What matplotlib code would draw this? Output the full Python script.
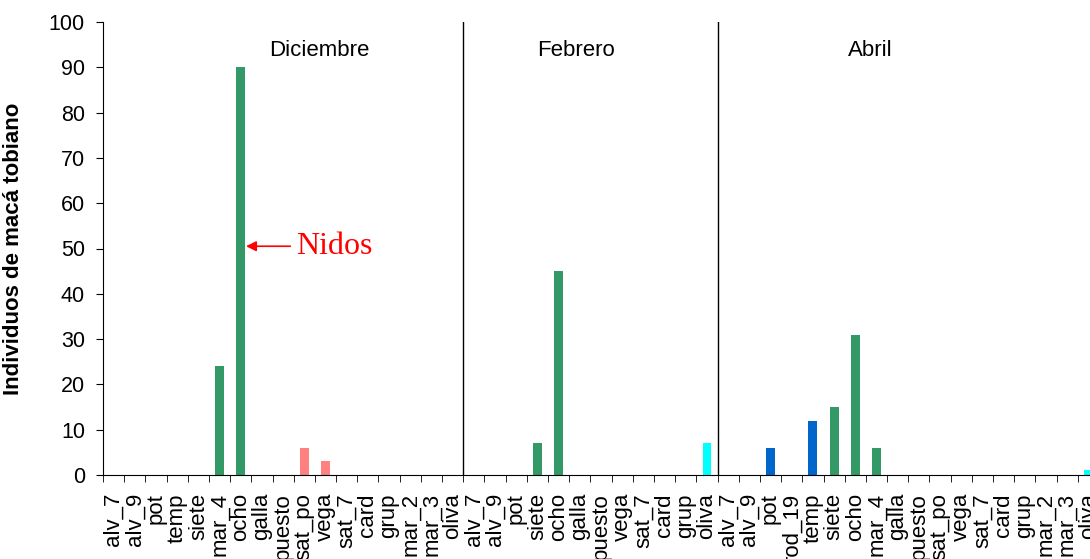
import numpy as np
import matplotlib.pyplot as plt

# Categorias por mes
dic = ["alv_7", "alv_9", "pot", "temp", "siete", "mar_4", "ocho", "galla", "puesto",
       "sat_po", "vega", "sat_7", "card", "grup", "mar_2", "mar_3", "oliva"]
feb = ["alv_7", "alv_9", "pot", "siete", "ocho", "galla", "puesto", "vega", "sat_7",
       "card", "grup", "oliva"]
abr = ["alv_7", "alv_9", "pot", "rod_19", "temp", "siete", "ocho", "mar_4", "galla",
       "puesto", "sat_po", "vega", "sat_7", "card", "grup", "mar_2", "mar_3", "oliva"]

# Individuos de maca tobiano
val_dic = [0, 0, 0, 0, 0, 24, 90, 0, 0, 6, 3, 0, 0, 0, 0, 0, 0]
val_feb = [0, 0, 0, 7, 45, 0, 0, 0, 0, 0, 0, 7]
val_abr = [0, 0, 6, 0, 12, 15, 31, 6, 0, 0, 0, 0, 0, 0, 0, 0, 0, 1]

meses = ["Diciembre", "Febrero", "Abril"]

verde = "#339966"
rosa = "#FF8080"
cian = "#00FFFF"
azul = "#0066CC"
col_dic = {"mar_4": verde, "ocho": verde, "sat_po": rosa, "vega": rosa, "oliva": cian}
col_feb = {"siete": verde, "ocho": verde, "oliva": cian}
col_abr = {"pot": azul, "temp": azul, "siete": verde, "ocho": verde, "mar_4": verde, "oliva": cian}

labels = dic + feb + abr
values = val_dic + val_feb + val_abr
colors = ([col_dic.get(c, verde) for c in dic] + [col_feb.get(c, verde) for c in feb]
          + [col_abr.get(c, verde) for c in abr])
x = np.arange(len(labels))

plt.rcParams["font.family"] = ["Liberation Sans", "DejaVu Sans"]

fig = plt.figure(figsize=(10.9, 5.59), dpi=100)
ax = fig.add_axes([103 / 1090, 84 / 559, 996 / 1090, 453 / 559])

ax.bar(x, values, width=0.42, color=colors)

ax.set_xlim(-0.5, len(labels) - 0.5)
ax.set_ylim(0, 100)
ax.set_yticks(np.arange(0, 101, 10))
ax.tick_params(axis="y", labelsize=15.5, direction="out", length=5, pad=8)

ax.set_xticks(x)
ax.set_xticklabels(labels, rotation=90, fontsize=16)
ax.tick_params(axis="x", which="major", length=0, pad=13)
ax.set_xticks(np.arange(-0.5, len(labels), 1), minor=True)
ax.tick_params(axis="x", which="minor", length=5, direction="out")

ax.spines["top"].set_visible(False)
ax.spines["right"].set_visible(False)

# separadores de meses
n1 = len(dic)
n2 = len(dic) + len(feb)
for s in [n1 - 0.5, n2 - 0.5]:
    ax.plot([s, s], [0, 100], color="black", lw=1)

centros = [9.7, 21.8, 35.7]
for m, cx in zip(meses, centros):
    ax.text(cx, 93.8, m, ha="center", va="center", fontsize=16)

ax.set_ylabel("Individuos de macá tobiano", fontsize=16, fontweight="bold")
ax.yaxis.set_label_coords(-0.079, 0.5)

ax.annotate("Nidos", xy=(6.25, 50.5), xytext=(8.6, 50.5), color="red",
            fontsize=23, family="Liberation Serif", va="center",
            arrowprops=dict(arrowstyle="-|>", color="red", lw=1.2,
                            mutation_scale=15, shrinkA=2, shrinkB=0))

fig.savefig("out.png", dpi=100)
